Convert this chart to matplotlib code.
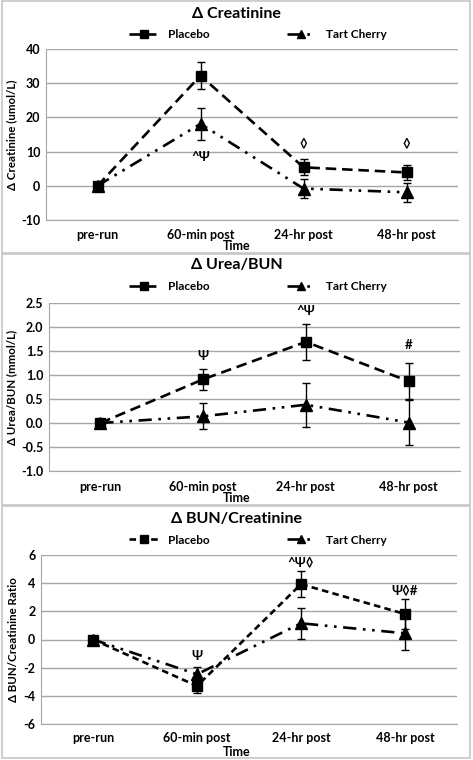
import matplotlib
matplotlib.use('Agg')
import matplotlib.pyplot as plt
from matplotlib.patches import Rectangle
from matplotlib.lines import Line2D

plt.rcParams['font.family'] = ['Lato', 'DejaVu Sans']
plt.rcParams['font.weight'] = 'bold'

times = ['pre-run', '60-min post', '24-hr post', '48-hr post']

# panel 1: creatinine
creat_placebo = [0, 32.2, 5.4, 3.9]
creat_placebo_err = [0, 3.9, 2.3, 2.2]
creat_cherry = [0, 18.1, -0.8, -1.9]
creat_cherry_err = [0, 4.6, 2.8, 2.7]

# panel 2: urea/BUN
urea_placebo = [0, 0.91, 1.69, 0.87]
urea_placebo_err = [0, 0.22, 0.38, 0.38]
urea_cherry = [0, 0.14, 0.38, 0.01]
urea_cherry_err = [0, 0.27, 0.46, 0.46]

# panel 3: BUN/creatinine ratio
ratio_placebo = [0, -3.3, 3.93, 1.81]
ratio_placebo_err = [0, 0.5, 0.9, 1.05]
ratio_cherry = [0, -2.47, 1.15, 0.44]
ratio_cherry_err = [0, 0.5, 1.1, 1.2]

panels = [
    dict(title='Δ Creatinine', ylabel='Δ Creatinine (umol/L)',
         p=creat_placebo, pe=creat_placebo_err, c=creat_cherry, ce=creat_cherry_err,
         ylim=(-10, 40), yticks=[-10, 0, 10, 20, 30, 40], fmt='{:.0f}',
         notes=[(1, 8.5, '^Ψ'), (2, 12.3, '◊'), (3, 12.3, '◊')], dash=(0, (4, 2.2)),
         box=(0, 253), ax_px=(46, 458, 49, 220), title_y=14, leg_y=35, tick_y=235, time_y=246),
    dict(title='Δ Urea/BUN', ylabel='Δ Urea/BUN (mmol/L)',
         p=urea_placebo, pe=urea_placebo_err, c=urea_cherry, ce=urea_cherry_err,
         ylim=(-1.0, 2.5), yticks=[-1.0, -0.5, 0.0, 0.5, 1.0, 1.5, 2.0, 2.5], fmt='{:.1f}',
         notes=[(1, 1.39, 'Ψ'), (2, 2.33, '^Ψ'), (3, 1.63, '#')], dash=(0, (4, 2.2)),
         box=(253, 505), ax_px=(49, 460, 303, 471), title_y=265, leg_y=287, tick_y=487, time_y=498),
    dict(title='Δ BUN/Creatinine', ylabel='Δ BUN/Creatinine Ratio',
         p=ratio_placebo, pe=ratio_placebo_err, c=ratio_cherry, ce=ratio_cherry_err,
         ylim=(-6, 6), yticks=[-6, -4, -2, 0, 2, 4, 6], fmt='{:.0f}',
         notes=[(1, -1.15, 'Ψ'), (2, 5.48, '^Ψ◊'), (3, 3.51, 'Ψ◊#')], dash=(0, (2.5, 1.6)),
         box=(505, 758), ax_px=(41, 457, 555, 724), title_y=519, leg_y=540, tick_y=738, time_y=752),
]

W, H = 473, 760
fig = plt.figure(figsize=(W / 100, H / 100), dpi=100)
cherry_dash = (0, (5, 2.5, 1, 2.5, 1, 2.5))

x = list(range(len(times)))
for pn in panels:
    top, bot = pn['box']
    fig.patches.append(Rectangle((2 / W, 1 - bot / H), (W - 5) / W, (bot - top - 1) / H,
                                 transform=fig.transFigure, fill=False,
                                 edgecolor='#c6c6c6', linewidth=1.2))
    l, r, t, b = pn['ax_px']
    ax = fig.add_axes([l / W, 1 - b / H, (r - l) / W, (b - t) / H])
    ax.errorbar(x, pn['p'], yerr=pn['pe'], color='black', linestyle=pn['dash'],
                linewidth=1.9, marker='s', markersize=7, capsize=3, elinewidth=1,
                capthick=1, label='Placebo', zorder=3)
    ax.errorbar(x, pn['c'], yerr=pn['ce'], color='black', linestyle=cherry_dash,
                linewidth=1.9, marker='^', markersize=8, capsize=3, elinewidth=1,
                capthick=1, label='Tart Cherry', zorder=3)
    for i, yv, s in pn['notes']:
        ax.text(i, yv, s, ha='center', va='center', fontsize=9.5, fontweight='bold')
    ax.set_xlim(-0.5, 3.5)
    ax.set_ylim(*pn['ylim'])
    ax.set_yticks(pn['yticks'])
    ax.set_yticklabels([pn['fmt'].format(v) for v in pn['yticks']], fontsize=9, fontweight='bold')
    ax.set_xticks(x)
    ax.set_xticklabels([])
    ax.tick_params(length=0, pad=4)
    ax.grid(axis='y', color='#a6a6a6', linewidth=1)
    ax.set_axisbelow(True)
    for side in ['top', 'right']:
        ax.spines[side].set_visible(False)
    ax.spines['left'].set_color('#a6a6a6')
    ax.spines['bottom'].set_color('#a6a6a6')
    ax.set_ylabel(pn['ylabel'], fontsize=8.3, fontweight='bold', labelpad=3)
    for i, lab in enumerate(times):
        ax.text(i, 1 - (pn['tick_y'] - t) / (b - t), lab, transform=ax.get_xaxis_transform(),
                ha='center', va='center', fontsize=9, fontweight='bold')
    fig.text(0.5, 1 - pn['time_y'] / H, 'Time', ha='center', va='center', fontsize=9, fontweight='bold')
    fig.text(0.5, 1 - pn['title_y'] / H, pn['title'], ha='center', va='center', fontsize=11.5, fontweight='bold')
    handles = [Line2D([], [], color='black', linestyle=pn['dash'], linewidth=1.9, marker='s', markersize=6),
               Line2D([], [], color='black', linestyle=cherry_dash, linewidth=1.9, marker='^', markersize=6)]
    fig.legend(handles, ['Placebo', 'Tart Cherry'], loc='center', ncol=2,
               bbox_to_anchor=(0.545, 1 - pn['leg_y'] / H), frameon=False,
               prop={'size': 8.5, 'weight': 'bold'}, handlelength=2.5, columnspacing=6.5, handletextpad=0.8)

fig.savefig('out.png', dpi=100, facecolor='white')
